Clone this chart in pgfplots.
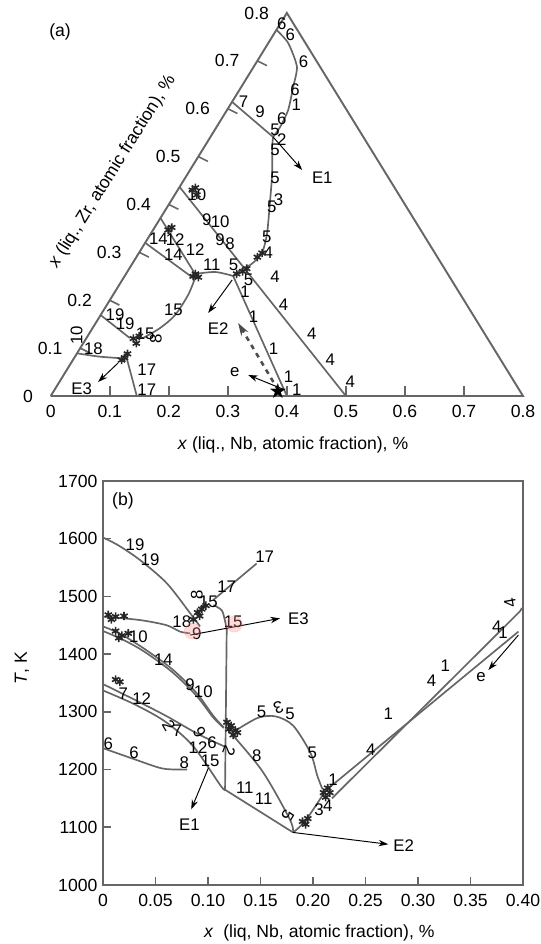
\documentclass[border=0pt]{standalone}
\usepackage{fontspec}
\setmainfont{Liberation Sans}
\newfontfamily\djv{DejaVu Sans}
\usepackage{pgfplots}
\pgfplotsset{compat=1.18}
\usetikzlibrary{arrows.meta}
\newcommand{\lab}[3]{\node[lb] at (axis cs:#1,#2) {#3};}
\newcommand{\labr}[4]{\node[lb,rotate=#4] at (axis cs:#1,#2) {#3};}
\begin{document}
\begin{tikzpicture}[
  crv/.style={draw=black!60, line width=1.05pt},
  arr/.style={draw=black, line width=0.6pt, -{Stealth[length=6pt,width=4pt]}},
  lb/.style={font=\fontsize{10.5}{12}\selectfont, inner sep=0pt, text=black},
  tl/.style={font=\fontsize{11}{13}\selectfont, inner sep=0pt, text=black},
  blob/.style={only marks, mark=asterisk, mark size=2.6pt, black!85, line width=1pt},
]
\useasboundingbox (0,0) rectangle (338.1pt,590pt);

%% ---------------- (a) ternary section ----------------
\begin{axis}[
  at={(31.7pt,342.5pt)}, anchor=south west,
  scale only axis, width=295.2pt, height=239.4pt,
  xmin=0, xmax=0.8, ymin=0, ymax=0.8,
  clip=false,
  axis x line*=bottom, axis y line=none,
  x axis line style={draw=none},
  xtick={0,0.1,0.2,0.3,0.4,0.5,0.6,0.7,0.8},
  xticklabels={0,0.1,0.2,0.3,0.4,0.5,0.6,0.7,0.8},
  major tick length=0pt,
  xticklabel style={font=\fontsize{11}{13}\selectfont, yshift=-2pt},
  xlabel={\textit{x} (liq., Nb, atomic fraction), \%},
  xlabel style={at={(axis description cs:0.513,-0.128)}, anchor=center, font=\fontsize{11}{13}\selectfont},
]
% triangle
\addplot[crv, line width=1.2pt] coordinates {(0,0) (0.8,0) (0.4,0.8) (0,0)};
% base ticks
\draw[black!60, line width=1pt] (axis cs:0.1,0) -- ++(0,6pt);
\draw[black!60, line width=1pt] (axis cs:0.2,0) -- ++(0,6pt);
\draw[black!60, line width=1pt] (axis cs:0.3,0) -- ++(0,6pt);
\draw[black!60, line width=1pt] (axis cs:0.4,0) -- ++(0,6pt);
\draw[black!60, line width=1pt] (axis cs:0.5,0) -- ++(0,6pt);
\draw[black!60, line width=1pt] (axis cs:0.6,0) -- ++(0,6pt);
\draw[black!60, line width=1pt] (axis cs:0.7,0) -- ++(0,6pt);
% left-edge ticks
\draw[black!60, line width=1pt] (axis cs:0.05,0.1) -- ++(6pt,-3pt);
\draw[black!60, line width=1pt] (axis cs:0.10,0.2) -- ++(6pt,-3pt);
\draw[black!60, line width=1pt] (axis cs:0.15,0.3) -- ++(6pt,-3pt);
\draw[black!60, line width=1pt] (axis cs:0.20,0.4) -- ++(6pt,-3pt);
\draw[black!60, line width=1pt] (axis cs:0.25,0.5) -- ++(6pt,-3pt);
\draw[black!60, line width=1pt] (axis cs:0.30,0.6) -- ++(6pt,-3pt);
\draw[black!60, line width=1pt] (axis cs:0.35,0.7) -- ++(6pt,-3pt);
% left-edge labels
\node[tl,anchor=east,xshift=-11pt] at (axis cs:0,0) {0};
\node[tl,anchor=east,xshift=-11pt] at (axis cs:0.05,0.1) {0.1};
\node[tl,anchor=east,xshift=-11pt] at (axis cs:0.10,0.2) {0.2};
\node[tl,anchor=east,xshift=-11pt] at (axis cs:0.15,0.3) {0.3};
\node[tl,anchor=east,xshift=-11pt] at (axis cs:0.20,0.4) {0.4};
\node[tl,anchor=east,xshift=-11pt] at (axis cs:0.25,0.5) {0.5};
\node[tl,anchor=east,xshift=-11pt] at (axis cs:0.30,0.6) {0.6};
\node[tl,anchor=east,xshift=-11pt] at (axis cs:0.35,0.7) {0.7};
\node[tl,anchor=east,xshift=-11pt] at (axis cs:0.40,0.8) {0.8};
\node[tl,rotate=58] at (axis cs:0.1047,0.4685) {\textit{x} (liq., Zr, atomic fraction), \%};
\node[tl] at (axis cs:0.0158,0.76) {(a)};

% curves
\addplot[crv, smooth, tension=0.4] coordinates {(0.3825,0.7645) (0.4022,0.7373) (0.417,0.688) (0.4107,0.6454) (0.4022,0.5974) (0.3886,0.5619) (0.3767,0.541)};
\addplot[crv, smooth, tension=0.4] coordinates {(0.3767,0.541) (0.3751,0.5201) (0.3751,0.4658) (0.3717,0.4094) (0.3666,0.3405) (0.3598,0.305) (0.3514,0.2883) (0.3378,0.2736) (0.3208,0.2632) (0.309,0.2507)};
\addplot[crv] coordinates {(0.3073,0.6141) (0.3767,0.541)};
\addplot[crv] coordinates {(0.2183,0.4366) (0.5,0)};
\addplot[crv] coordinates {(0.309,0.2507) (0.4,0)};
\addplot[crv] coordinates {(0.1859,0.3718) (0.2446,0.2548)};
\addplot[crv] coordinates {(0.160,0.320) (0.2412,0.2465)};
\addplot[crv, smooth] coordinates {(0.2446,0.2548) (0.2785,0.259) (0.309,0.2507)};
\addplot[crv, smooth] coordinates {(0.2446,0.2465) (0.2327,0.211) (0.2107,0.1692) (0.1853,0.142) (0.1564,0.1211)};
\addplot[crv] coordinates {(0.0845,0.169) (0.134,0.121)};
\addplot[crv, smooth] coordinates {(0.0446,0.0891) (0.0836,0.0821) (0.123,0.0787)};
\addplot[crv] coordinates {(0.1288,0.0787) (0.1458,0)};
% dashed arrow and star
\addplot[black!70, line width=1.6pt, dashed, -{Stealth[length=8pt,width=5pt]}] coordinates {(0.3855,0.012) (0.3175,0.1525)};
\addplot[only marks, mark=text, text mark={\djv\fontsize{13}{13}\selectfont ★}] coordinates {(0.385,0.01)};
% arrows
\addplot[arr] coordinates {(0.397,0.0125) (0.3344,0.0439)};
\addplot[arr] coordinates {(0.3073,0.2423) (0.2667,0.1734)};
\addplot[arr] coordinates {(0.3767,0.541) (0.4259,0.472)};
\addplot[arr] coordinates {(0.114,0.0689) (0.0802,0.0292)};
% blobs
\addplot[blob] coordinates {(0.2475,0.42) (0.24,0.43) (0.245,0.435) (0.199,0.347) (0.205,0.352) (0.2412,0.25) (0.245,0.255) (0.25,0.248) (0.315,0.255) (0.325,0.26) (0.332,0.266) (0.358,0.2987) (0.35,0.29) (0.14,0.12) (0.15,0.125) (0.145,0.11) (0.125,0.08) (0.13,0.088) (0.12,0.075)};
% labels
\lab{0.3914}{0.7785}{6}\lab{0.4056}{0.754}{6}\lab{0.4281}{0.6983}{6}\lab{0.414}{0.639}{6}
\lab{0.4158}{0.6078}{1}\lab{0.3915}{0.58}{6}\lab{0.380}{0.5556}{5}\lab{0.3915}{0.5347}{2}
\lab{0.380}{0.5138}{5}\lab{0.380}{0.4547}{5}\lab{0.3858}{0.4094}{3}\lab{0.3746}{0.3954}{5}
\lab{0.3661}{0.3327}{5}\lab{0.3687}{0.2986}{4}\lab{0.380}{0.2486}{4}\lab{0.3265}{0.6147}{7}
\lab{0.3547}{0.5938}{9}
\lab{0.2644}{0.3676}{9}\lab{0.287}{0.364}{10}\lab{0.287}{0.3258}{9}\lab{0.3039}{0.319}{8}
\lab{0.2475}{0.42}{10}\lab{0.2107}{0.3258}{12}\lab{0.1824}{0.3294}{14}\lab{0.2078}{0.2945}{14}
\lab{0.2446}{0.305}{12}\lab{0.2729}{0.2736}{11}\lab{0.3095}{0.2736}{5}\lab{0.335}{0.2423}{5}
\lab{0.3293}{0.2179}{1}\lab{0.3943}{0.19}{4}\lab{0.3434}{0.1657}{1}\lab{0.2078}{0.1796}{15}
\lab{0.4423}{0.131}{4}\lab{0.3773}{0.0996}{1}\lab{0.4734}{0.0752}{4}\lab{0.4028}{0.0403}{1}
\lab{0.417}{0.0125}{1}\lab{0.5073}{0.0299}{4}\lab{0.109}{0.169}{19}\lab{0.126}{0.152}{19}
\lab{0.0722}{0.0996}{18}\labr{0.044}{0.127}{10}{90}\lab{0.16}{0.13}{15}\labr{0.178}{0.12}{8}{90}
\lab{0.1627}{0.0543}{17}\lab{0.1627}{0.0125}{17}
\lab{0.0525}{0.016}{E3}\lab{0.2836}{0.1414}{E2}\lab{0.46}{0.455}{E1}\lab{0.312}{0.05}{e}
\end{axis}

%% ---------------- (b) temperature section ----------------
\begin{axis}[
  at={(64.4pt,36.9pt)}, anchor=south west,
  scale only axis, width=262.5pt, height=252.5pt,
  xmin=0, xmax=0.4, ymin=1000, ymax=1700,
  clip=false,
  axis line style={black!60, line width=1.2pt},
  tick pos=left, tick align=inside, major tick length=5pt,
  tick style={black!60, line width=1pt},
  xtick={0,0.05,0.10,0.15,0.20,0.25,0.30,0.35,0.40},
  xticklabels={0,0.05,0.10,0.15,0.20,0.25,0.30,0.35,0.40},
  ytick={1000,1100,1200,1300,1400,1500,1600,1700},
  yticklabels={1000,1100,1200,1300,1400,1500,1600,1700},
  ticklabel style={font=\fontsize{11}{13}\selectfont},
  xticklabel style={yshift=-2pt},
  xlabel={\textit{x}\ \ (liq, Nb, atomic fraction), \%},
  xlabel style={at={(axis description cs:0.515,-0.119)}, anchor=center, font=\fontsize{11}{13}\selectfont},
  ylabel={\textit{T}, K},
  ylabel style={at={(axis description cs:-0.193,0.537)}, rotate=0, anchor=center, font=\fontsize{11}{13}\selectfont},
]
\addplot[only marks, mark=*, mark size=5pt, red!45, opacity=0.3] coordinates {(0.085,1440) (0.125,1452)};
\addplot[crv, smooth] coordinates {(0,1602) (0.015,1588) (0.0352,1563) (0.0606,1523) (0.0829,1471) (0.0924,1448)};
\addplot[crv, smooth] coordinates {(0,1465) (0.0352,1459) (0.0606,1450) (0.0733,1439) (0.0829,1436)};
\addplot[crv, smooth] coordinates {(0.1051,1494) (0.124,1523) (0.1463,1557)};
\addplot[crv, smooth] coordinates {(0.1051,1485) (0.113,1476) (0.116,1459) (0.1178,1442)};
\addplot[crv] coordinates {(0.1178,1445) (0.1162,1165)};
\addplot[crv, smooth] coordinates {(0,1448) (0.0165,1435) (0.0395,1409) (0.0658,1374) (0.0889,1333) (0.105,1293) (0.115,1273)};
\addplot[crv, smooth] coordinates {(0,1440) (0.02,1424) (0.0395,1404) (0.0658,1369) (0.0889,1328) (0.105,1290) (0.115,1272)};
\addplot[crv, smooth] coordinates {(0,1348) (0.03,1321) (0.06,1293) (0.09,1262) (0.1155,1240)};
\addplot[crv, smooth] coordinates {(0,1337) (0.03,1313) (0.0593,1283) (0.0856,1241) (0.112,1172) (0.1162,1165)};
\addplot[crv, smooth] coordinates {(0,1237) (0.0296,1218) (0.056,1202) (0.074,1200) (0.08,1200)};
\addplot[crv, smooth] coordinates {(0.1185,1270) (0.1514,1198) (0.1778,1114) (0.181,1091)};
\addplot[crv] coordinates {(0.1162,1165) (0.181,1091)};
\addplot[crv, smooth] coordinates {(0.181,1091) (0.1926,1111) (0.2107,1160) (0.2123,1166)};
\addplot[crv, smooth] coordinates {(0.1284,1270) (0.1481,1290) (0.1646,1292) (0.1811,1276) (0.1975,1229) (0.2041,1189) (0.209,1166)};
\addplot[crv] coordinates {(0.213,1165) (0.3956,1439)};
\addplot[crv] coordinates {(0.218,1150) (0.397,1474) (0.399,1480)};
% arrows
\addplot[arr] coordinates {(0.083,1433) (0.1686,1462)};
\addplot[arr] coordinates {(0.1004,1203) (0.084,1131)};
\addplot[arr] coordinates {(0.181,1091) (0.2716,1070.5)};
\addplot[arr] coordinates {(0.3956,1433) (0.367,1372.5)};
% blobs
\addplot[blob] coordinates {(0.005,1468) (0.012,1465) (0.02,1466) (0.008,1460) (0.012,1440) (0.018,1432) (0.024,1436) (0.015,1428) (0.012,1356) (0.016,1352) (0.09,1472) (0.094,1478) (0.098,1484) (0.092,1466) (0.086,1460) (0.118,1282) (0.122,1276) (0.126,1268) (0.124,1260) (0.128,1264) (0.12,1270) (0.19,1110) (0.195,1115) (0.193,1105) (0.21,1160) (0.214,1168) (0.216,1160) (0.212,1152)};
% labels
\node[tl] at (axis cs:0.019,1665) {(b)};
\lab{0.0305}{1589}{19}\lab{0.0448}{1563}{19}\lab{0.154}{1569}{17}\lab{0.1178}{1517}{17}
\labr{0.0893}{1502}{8}{90}\lab{0.1003}{1491}{15}\lab{0.075}{1456}{18}\lab{0.0892}{1436}{9}
\lab{0.124}{1456}{15}\lab{0.0337}{1430}{10}\lab{0.0575}{1390}{14}\lab{0.0829}{1347}{9}
\lab{0.0955}{1335}{10}\lab{0.0194}{1332}{7}\lab{0.0368}{1323}{12}\lab{0.151}{1300}{5}
\labr{0.167}{1308}{3}{200}\lab{0.178}{1296}{5}\labr{0.0626}{1276}{2}{-60}\lab{0.0708}{1267}{7}
\labr{0.092}{1264}{6}{120}\lab{0.1037}{1247}{6}
\lab{0.0905}{1238}{12}\lab{0.102}{1215}{15}\lab{0.0774}{1212}{8}\lab{0.0049}{1244}{6}
\lab{0.0296}{1229}{6}\labr{0.12}{1232}{2}{-110}\lab{0.1465}{1224}{8}\lab{0.1992}{1229}{5}
\lab{0.135}{1169}{11}\lab{0.153}{1149}{11}\labr{0.176}{1120}{5}{-120}\lab{0.2058}{1131}{3}
\lab{0.214}{1137}{4}\lab{0.219}{1183}{1}\lab{0.2716}{1296}{1}\lab{0.255}{1235}{4}
\lab{0.3128}{1354}{4}\lab{0.326}{1380}{1}\lab{0.36}{1361}{e}
\lab{0.375}{1447}{4}\lab{0.381}{1437}{1}\labr{0.3876}{1489}{4}{100}
\lab{0.0823}{1105}{E1}\lab{0.2864}{1068}{E2}\lab{0.186}{1462}{E3}
\end{axis}
\end{tikzpicture}
\end{document}
